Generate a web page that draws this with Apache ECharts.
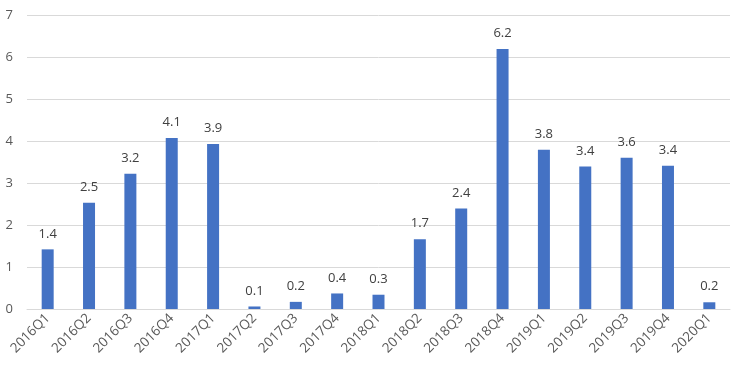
<!DOCTYPE html>
<html><head><meta charset="utf-8">
<script src="https://cdn.jsdelivr.net/npm/echarts@6/dist/echarts.min.js"></script>
<style>html,body{margin:0;padding:0;background:#fff}#c{width:742px;height:371px}</style>
</head><body><div id="c"></div>
<script>
const categories = ['2016Q1','2016Q2','2016Q3','2016Q4','2017Q1','2017Q2','2017Q3','2017Q4','2018Q1','2018Q2','2018Q3','2018Q4','2019Q1','2019Q2','2019Q3','2019Q4','2020Q1'];
const values = [1.42,2.53,3.22,4.07,3.93,0.06,0.17,0.37,0.34,1.66,2.39,6.19,3.79,3.39,3.60,3.41,0.16];
const yTicks = [0,1,2,3,4,5,6,7];
const chart = echarts.init(document.getElementById('c'));
chart.setOption({
  animation:false,
  grid:{left:27,right:12,top:15,bottom:62},
  xAxis:{type:'category',data:categories,
    axisLine:{lineStyle:{color:'#d9d9d9'}},axisTick:{show:false},
    axisLabel:{rotate:45,color:'#595959',fontSize:13.5,fontFamily:'Open Sans, Calibri, sans-serif',interval:0,margin:7}},
  yAxis:{type:'value',min:yTicks[0],max:yTicks[yTicks.length-1],interval:1,
    axisLine:{show:false},axisTick:{show:false},
    splitLine:{lineStyle:{color:'#d9d9d9'}},
    axisLabel:{color:'#595959',fontSize:13,fontFamily:'Open Sans, Calibri, sans-serif',margin:14}},
  series:[{type:'bar',data:values,barWidth:12,itemStyle:{color:'#4472C4'},
    label:{show:true,position:'top',distance:9,color:'#404040',fontSize:13,fontFamily:'Open Sans, Calibri, sans-serif',
      formatter:p=>p.value.toFixed(1)}}]
});
</script></body></html>
